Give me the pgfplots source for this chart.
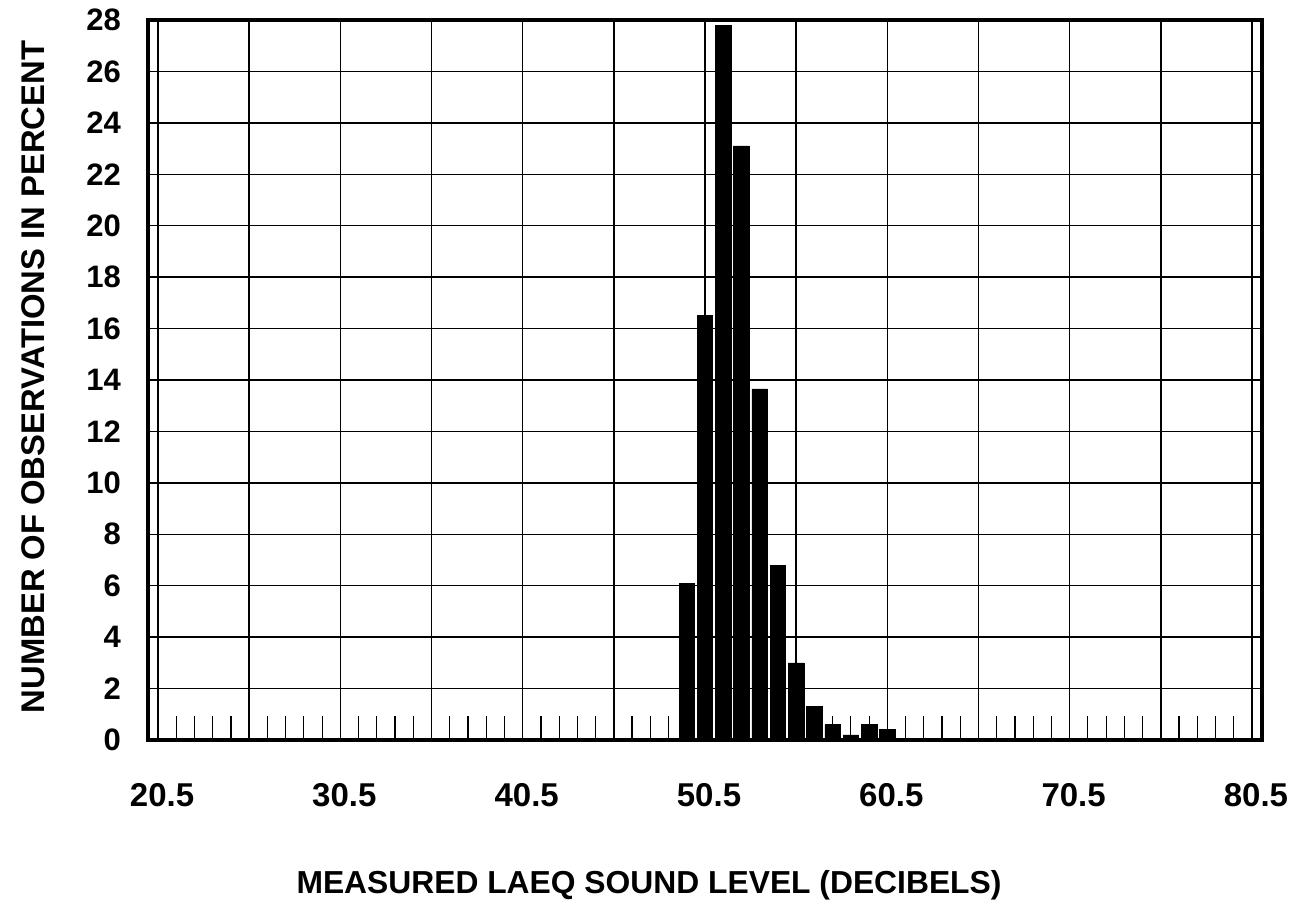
\documentclass[border=0pt]{standalone}
\usepackage{pgfplots}
\pgfplotsset{compat=1.18}
\usepackage{fontspec}
\setmainfont{Liberation Sans}
\pgfplotstableread{
x y
49.5 6.1
50.5 16.5
51.5 27.8
52.5 23.1
53.5 13.65
54.5 6.8
55.5 3.0
56.5 1.3
57.5 0.6
58.5 0.2
59.5 0.6
60.5 0.4
}\datatable
\begin{document}
\begin{tikzpicture}
\begin{axis}[
  scale only axis, width=557pt, height=360pt,
  xmin=19.95, xmax=81.05, ymin=0, ymax=28,
  ybar, bar width=0.85,
  axis line style={line width=2.2pt},
  xtick={20.5,25.5,30.5,35.5,40.5,45.5,50.5,55.5,60.5,65.5,70.5,75.5,80.5},
  xticklabels={20.5,,30.5,,40.5,,50.5,,60.5,,70.5,,80.5},
  minor xtick={21.5,22.5,23.5,24.5,26.5,27.5,28.5,29.5,31.5,32.5,33.5,34.5,36.5,37.5,38.5,39.5,41.5,42.5,43.5,44.5,46.5,47.5,48.5,49.5,51.5,52.5,53.5,54.5,56.5,57.5,58.5,59.5,61.5,62.5,63.5,64.5,66.5,67.5,68.5,69.5,71.5,72.5,73.5,74.5,76.5,77.5,78.5,79.5},
  ytick={0,2,...,28},
  xmajorgrids, ymajorgrids,
  major grid style={black, line width=0.7pt},
  major tick length=0pt,
  minor tick length=12pt,
  tick align=inside, xtick align=inside,
  xtick pos=bottom, ytick pos=left,
  minor tick style={black, line width=0.6pt},
  /pgf/number format/assume math mode=true,
  xticklabel style={font=\fontsize{16.5}{16.5}\selectfont\bfseries, yshift=-18pt, xshift=2pt},
  yticklabel style={font=\fontsize{15.5}{15.5}\selectfont\bfseries, xshift=-10pt},
  xlabel={MEASURED LAEQ SOUND LEVEL (DECIBELS)},
  xlabel style={at={([yshift=-72.5pt,xshift=-28pt]rel axis cs:0.5,0)}, anchor=center, font=\fontsize{15.9}{15.9}\selectfont\bfseries},
  ylabel={NUMBER OF OBSERVATIONS IN PERCENT},
  ylabel style={at={([xshift=-57.5pt,yshift=1.5pt]rel axis cs:0,0.5)}, anchor=center, font=\fontsize{16.4}{16.4}\selectfont\bfseries},
]
\addplot[fill=black, draw=black, line width=0.3pt] table[x=x,y=y] {\datatable};
\end{axis}
\pgfresetboundingbox
\path[use as bounding box] ([shift={(-74pt,-91.5pt)}]current axis.south west) rectangle ([shift={(18.5pt,10pt)}]current axis.north east);
\end{tikzpicture}
\end{document}
